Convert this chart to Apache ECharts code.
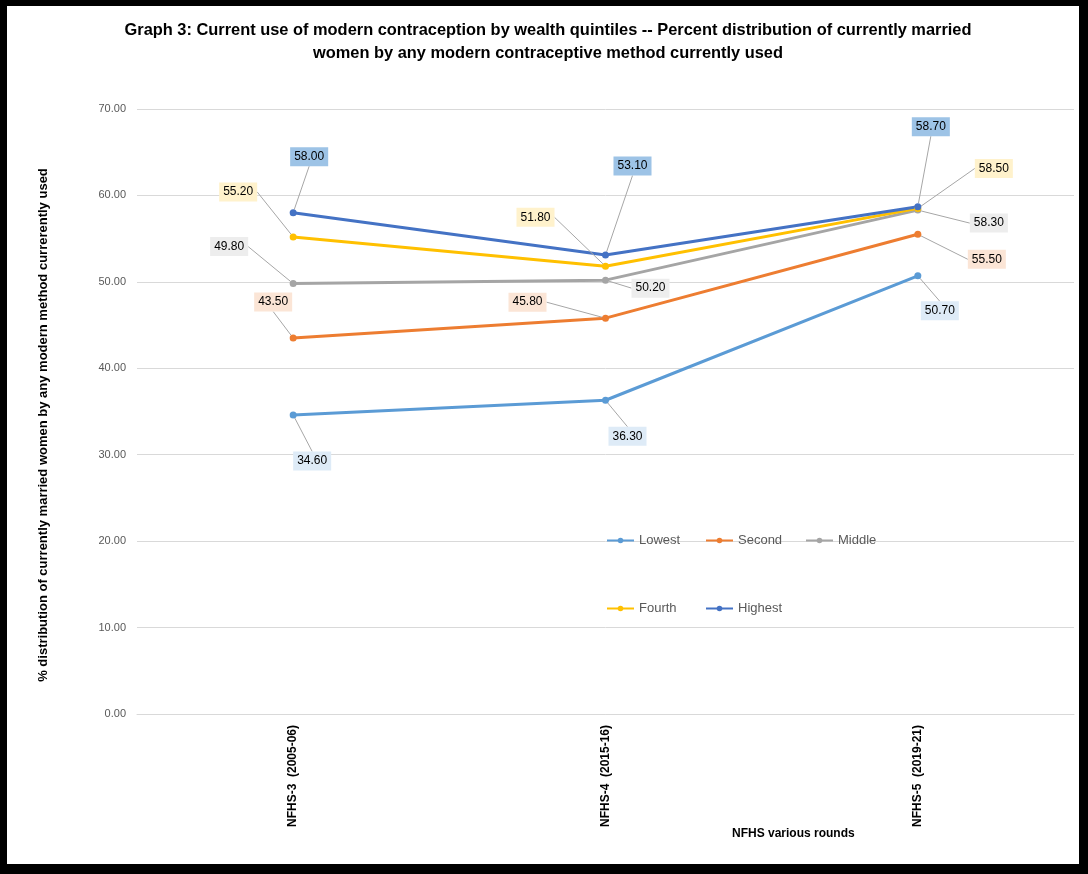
<!DOCTYPE html>
<html>
<head>
<meta charset="utf-8">
<script src="https://cdn.jsdelivr.net/npm/echarts@6/dist/echarts.min.js"></script>
<style>
  html, body { margin: 0; background: #000; }
  #chart { position: absolute; left: 7px; top: 6px; width: 1072px; height: 858px; background: #fff; }
</style>
</head>
<body>
<div id="chart"></div>
<script>
// survey rounds on the x axis
const rounds = ['NFHS-3  (2005-06)', 'NFHS-4  (2015-16)', 'NFHS-5  (2019-21)']
const quintiles = ['Lowest', 'Second', 'Middle', 'Fourth', 'Highest']

// percent of currently married women using a modern method
const lowest = [34.6, 36.3, 50.7]
const second = [43.5, 45.8, 55.5]
const middle = [49.8, 50.2, 58.3]
const fourth = [55.2, 51.8, 58.5]
const highest = [58.0, 53.1, 58.7]

const yMin = 0
const yMax = 70
const yStep = 10

const values = [lowest, second, middle, fourth, highest]
const colors = ['#5B9BD5', '#ED7D31', '#A5A5A5', '#FFC000', '#4472C4']
const labelBg = ['#DEEBF7', '#FBE5D6', '#EDEDED', '#FFF2CC', '#9DC3E6']

// where each data label sits relative to its point (dx, dy)
const labelShift = [
  [[19, 46], [22, 36], [22, 35]],
  [[-20, -36], [-78, -16], [69, 25]],
  [[-64, -37], [45, 8], [71, 13]],
  [[-55, -45], [-70, -49], [76, -40]],
  [[16, -56], [27, -89], [13, -80]]
]

// legend grid: 3 columns, 2 rows
const legendPos = [[599, 528], [698, 528], [798, 528], [599, 596], [698, 596]]

const font = '"Liberation Sans", Arial, sans-serif'

const chart = echarts.init(document.getElementById('chart'))

const series = quintiles.map((name, i) => ({
  name,
  type: 'line',
  data: values[i],
  symbol: 'circle',
  symbolSize: 7,
  lineStyle: { width: 3, color: colors[i] },
  itemStyle: { color: colors[i] },
  label: {
    show: true,
    position: 'inside',
    formatter: (p) => Number(p.value).toFixed(2),
    fontFamily: font,
    fontSize: 12,
    color: '#000',
    backgroundColor: labelBg[i],
    padding: [4, 4, 3, 4]
  },
  labelLine: { show: true, lineStyle: { color: '#A6A6A6', width: 1 } },
  labelLayout: (p) => ({ dx: labelShift[i][p.dataIndex][0], dy: labelShift[i][p.dataIndex][1] }),
  emphasis: { disabled: true }
}))

const legends = quintiles.map((name, i) => ({
  left: legendPos[i][0],
  top: legendPos[i][1],
  padding: 0,
  itemWidth: 27,
  itemHeight: 7,
  data: [name],
  textStyle: { fontFamily: font, fontSize: 13, color: '#595959' }
}))

chart.setOption({
  animation: false,
  textStyle: { fontFamily: font },
  title: {
    text: 'Graph 3: Current use of modern contraception by wealth quintiles -- Percent distribution of currently married\nwomen by any modern contraceptive method currently used',
    left: 536,
    top: 8,
    textAlign: 'center',
    textStyle: { fontFamily: font, fontSize: 16.4, fontWeight: 'bold', color: '#000', lineHeight: 23 }
  },
  legend: legends,
  grid: { left: 130, right: 5, top: 103, bottom: 150 },
  xAxis: {
    type: 'category',
    data: rounds,
    boundaryGap: true,
    axisLine: { lineStyle: { color: '#D9D9D9' } },
    axisTick: { show: false },
    axisLabel: { rotate: 90, margin: 11, fontFamily: font, fontSize: 12, fontWeight: 'bold', color: '#000' }
  },
  yAxis: {
    type: 'value',
    min: yMin,
    max: yMax,
    interval: yStep,
    axisLine: { show: false },
    axisTick: { show: false },
    splitLine: { lineStyle: { color: '#D9D9D9' } },
    axisLabel: { margin: 11, fontFamily: font, fontSize: 11, color: '#595959', formatter: (v) => v.toFixed(2) }
  },
  graphic: [
    {
      type: 'text',
      x: 36,
      y: 419,
      rotation: Math.PI / 2,
      style: {
        text: '% distribution of currently married women by any modern method currerently used',
        fontFamily: font, fontSize: 13, fontWeight: 'bold', fill: '#000',
        align: 'center', verticalAlign: 'middle'
      }
    },
    {
      type: 'text',
      left: 725,
      top: 822,
      style: { text: 'NFHS various rounds', fontFamily: font, fontSize: 12, fontWeight: 'bold', fill: '#000' }
    }
  ],
  series
})
</script>
</body>
</html>
